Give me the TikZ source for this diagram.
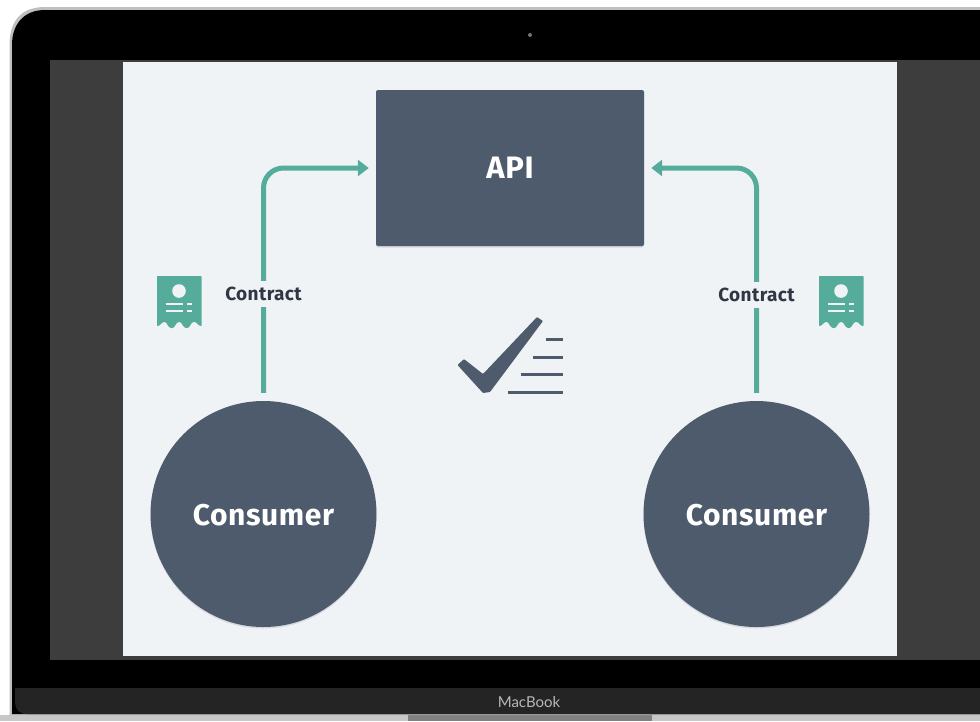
\documentclass[tikz,border=0pt]{standalone}
\usepackage{fontspec}
\setmainfont{Fira Sans}
\newfontfamily\badgefont{Lato}
\usetikzlibrary{arrows.meta}
\definecolor{slate}{HTML}{4E5B6C}
\definecolor{teal}{HTML}{55AC9A}
\definecolor{slidebg}{HTML}{F0F3F6}
\definecolor{inkdark}{HTML}{2F3744}
\definecolor{softshadow}{HTML}{D5D9DF}
\tikzset{
  x=1pt,y=-1pt,
  softdrop/.style={preaction={fill=softshadow,transform canvas={yshift=-1.5pt}}},
  slatebox/.style={softdrop,fill=slate,draw=none,rounded corners=2pt,minimum width=268pt,minimum height=156pt,inner sep=0pt,text=white,font=\bfseries\fontsize{31}{33}\selectfont\addfontfeatures{LetterSpace=2}},
  consumerdisc/.style={softdrop,circle,fill=slate,draw=none,minimum size=226pt,inner sep=0pt,text=white,font=\bfseries\fontsize{30}{32}\selectfont\addfontfeatures{LetterSpace=2}},
  flow/.style={draw=teal,line width=5pt,rounded corners=20pt,-{Triangle[length=11pt,width=16pt]},shorten <=8pt,shorten >=7pt},
  contractlabel/.style={fill=slidebg,inner xsep=1pt,inner ysep=6pt,text=inkdark,font=\bfseries\fontsize{19}{21}\selectfont\addfontfeatures{LetterSpace=2}},
  tick/.style={draw=slate,line width=3pt},
  hiddenbox/.style={inner sep=0pt,minimum size=0pt},
  pics/receipt/.style={code={
    \fill[teal,rounded corners=0.6pt] (0,0) -- (44.5,0) -- (44.5,50)
      .. controls (41,50) and (40,46) .. (37,46)
      .. controls (34,46) and (33,52) .. (29.7,52)
      .. controls (26,52) and (25,46) .. (22.2,46)
      .. controls (19,46) and (18,52) .. (14.8,52)
      .. controls (11,52) and (10,46) .. (7.4,46)
      .. controls (5,46) and (3,50) .. (0,50) -- cycle;
    \fill[slidebg] (22,15) circle[radius=6.8];
    \fill[slidebg] (9,27) rectangle (26,29.4);
    \fill[slidebg] (30,27) rectangle (35,29.4);
    \fill[slidebg] (9,34) rectangle (26,36.4);
    \fill[slidebg] (30,34) rectangle (35,36.4);
  }}
}
\begin{document}
\begin{tikzpicture}
\useasboundingbox (0,0) rectangle (980,721);
\fill[white] (0,0) rectangle (980,721);
% base of the laptop
\fill[black!22] (0,715) rectangle (980,721);
\fill[black!50] (408,715) rectangle (652,721);
% lid
\fill[black!25] (9.5,715) -- (9.5,45) .. controls (9.5,20) and (22,7) .. (45,7) -- (980,7) -- (980,715) -- cycle;
\fill[black] (12,714) -- (12,45) .. controls (12,24) and (24,10) .. (45,10) -- (980,10) -- (980,714) -- cycle;
\fill[black!86!white] (15,688) -- (980,688) -- (980,714) -- (27,714) .. controls (19,714) and (15,710) .. (15,700) -- cycle;
\node[hiddenbox,text=black!28,font=\badgefont\fontsize{15}{16}\selectfont] (badge) at (529,702) {MacBook};
\fill[black!55] (530,35) circle[radius=2];
% screen
\fill[black!76] (50,60) rectangle (980,660);
\fill[slidebg] (123,62) rectangle (897,656);
% nodes
\node[slatebox] (api) at (510,168) {API};
\node[consumerdisc] (left) at (263.5,514) {\raisebox{-11pt}[0pt][0pt]{Consumer}};
\node[consumerdisc] (right) at (756.5,514) {\raisebox{-11pt}[0pt][0pt]{Consumer}};
% connectors
\draw[flow] (left.north) |- (api.west);
\draw[flow] (right.north) |- (api.east);
\node[contractlabel] (cl) at (263.5,294) {Contract};
\node[contractlabel] (cr) at (756.5,295) {Contract};
% receipts
\pic at (157,276) {receipt};
\pic at (819,276) {receipt};
% check mark
\fill[slate,rounded corners=0.8pt] (457.5,365) -- (464,359) -- (483,374) -- (537,317) -- (543,321) -- (490,392) -- (483,393) -- cycle;
\draw[tick] (546,339) -- (563,339);
\draw[tick] (533,357) -- (563,357);
\draw[tick] (520.5,374) -- (563,374);
\draw[tick] (508,392) -- (563,392);
\end{tikzpicture}
\end{document}
